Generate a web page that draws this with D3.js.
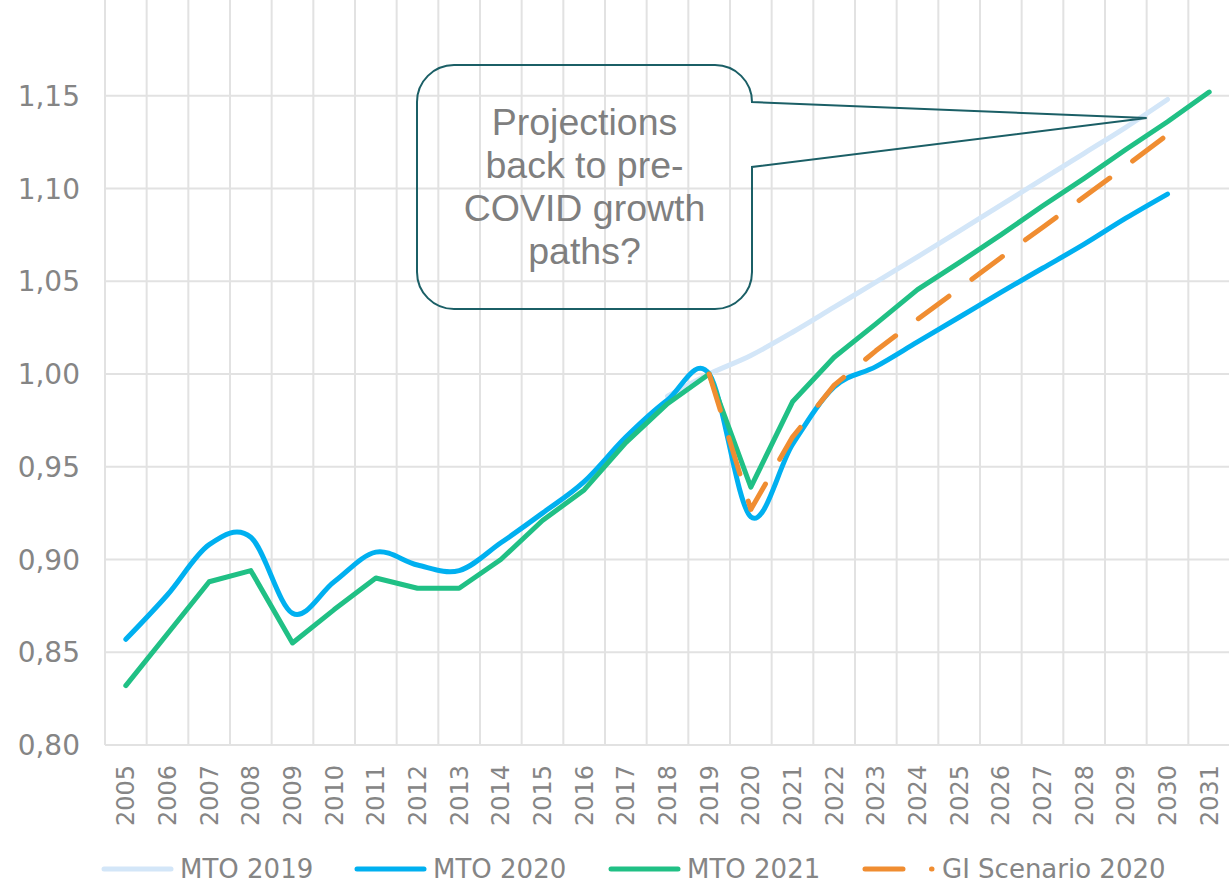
<!DOCTYPE html>
<html>
<head>
<meta charset="utf-8">
<script src="https://cdn.jsdelivr.net/npm/d3@7"></script>
<style>
  body { margin: 0; background: #fff; }
  svg { display: block; }
</style>
</head>
<body>
<div id="chart"></div>
<script>
// ---------------- data ----------------
var years = ["2005","2006","2007","2008","2009","2010","2011","2012","2013","2014","2015","2016","2017","2018",
             "2019","2020","2021","2022","2023","2024","2025","2026","2027","2028","2029","2030","2031"];

var mto2019 = [null,null,null,null,null,null,null,null,null,null,null,null,null,
               0.988,1.000,1.010,1.0225,1.036,1.0495,1.0632,1.077,1.091,1.105,1.119,1.133,1.148,null];

var mto2020 = [0.857,0.881,0.908,0.912,0.871,0.888,0.904,0.897,0.894,0.909,0.925,0.942,0.966,0.986,
               1.000,0.923,0.962,0.993,1.004,1.0173,1.0306,1.044,1.057,1.070,1.084,1.097,null];

var mto2021 = [0.832,0.860,0.888,0.894,0.855,0.873,0.890,0.8845,0.8845,0.900,0.921,0.9375,0.963,0.984,
               1.000,0.939,0.985,1.009,1.027,1.0455,1.060,1.075,1.0906,1.1055,1.121,1.136,1.152];

var giScenario2020 = [null,null,null,null,null,null,null,null,null,null,null,null,null,null,
                      1.000,0.927,0.966,0.994,1.0125,1.0295,1.046,1.0627,1.079,1.0955,1.112,1.129,null];

var yTicks = [0.80,0.85,0.90,0.95,1.00,1.05,1.10,1.15];

var seriesNames = ["MTO 2019","MTO 2020","MTO 2021","GI Scenario 2020"];
var calloutLines = ["Projections","back to pre-","COVID growth","paths?"];

// ---------------- svg ----------------
var svgWidth = 1229, svgHeight = 886;
var plot = {left: 105, right: 1230, top: 3, bottom: 745};

var svg = d3.select("#chart").append("svg")
  .attr("width", svgWidth).attr("height", svgHeight);

var xScale = d3.scaleBand().domain(years).range([plot.left, plot.right]).padding(0);
var yScale = d3.scaleLinear().domain([0.80, 1.20]).range([plot.bottom, plot.top]);
var xc = function(i) { return xScale(years[i]) + xScale.bandwidth() / 2; };

var comma = d3.formatLocale({decimal: ",", thousands: ".", grouping: [3], currency: ["", "€"]}).format(".2f");
var gridColor = "#e2e2e2";
var textColor = "#858585";

// horizontal grid
svg.append("g").selectAll("line").data(yTicks).enter().append("line")
  .attr("x1", plot.left).attr("x2", plot.right)
  .attr("y1", d => yScale(d)).attr("y2", d => yScale(d))
  .attr("stroke", gridColor).attr("stroke-width", 2);

// vertical grid (between categories)
svg.append("g").selectAll("line").data(years).enter().append("line")
  .attr("x1", d => xScale(d)).attr("x2", d => xScale(d))
  .attr("y1", 0).attr("y2", plot.bottom)
  .attr("stroke", gridColor).attr("stroke-width", 2);

// y labels
svg.append("g").selectAll("text").data(yTicks).enter().append("text")
  .attr("x", 80).attr("y", d => yScale(d))
  .attr("dy", "0.36em")
  .attr("text-anchor", "end")
  .attr("font-family", "DejaVu Sans").attr("font-size", 28)
  .attr("fill", textColor)
  .text(d => comma(d));

// x labels
svg.append("g").selectAll("text").data(years).enter().append("text")
  .attr("transform", (d, i) => `translate(${xc(i)},${plot.bottom + 20}) rotate(-90)`)
  .attr("text-anchor", "end")
  .attr("dy", "0.36em")
  .attr("font-family", "DejaVu Sans").attr("font-size", 24)
  .attr("fill", textColor)
  .text(d => d);

// ---------------- lines ----------------
var series = [
  {name: seriesNames[0], values: mto2019, color: "#d3e6f8", curve: d3.curveCardinal.tension(0), dash: null},
  {name: seriesNames[1], values: mto2020, color: "#00b0f0", curve: d3.curveCardinal.tension(0), dash: null},
  {name: seriesNames[2], values: mto2021, color: "#20c085", curve: d3.curveLinear, dash: null},
  {name: seriesNames[3], values: giScenario2020, color: "#f08d31", curve: d3.curveLinear, dash: "38,28.5"}
];

series.forEach(function(s) {
  var pts = s.values.map((v, i) => [i, v]).filter(p => p[1] !== null);
  var line = d3.line()
    .x(p => xc(p[0]))
    .y(p => yScale(p[1]))
    .curve(s.curve);
  svg.append("path")
    .attr("d", line(pts))
    .attr("fill", "none")
    .attr("stroke", s.color)
    .attr("stroke-width", 5)
    .attr("stroke-linecap", "round")
    .attr("stroke-linejoin", "round")
    .attr("stroke-dasharray", s.dash);
});

// ---------------- callout ----------------
var box = {x0: 417, y0: 65, x1: 752, y1: 309, r: 37};
var tip = [xScale("2030"), yScale(1.138)];
var cp = d3.path();
cp.moveTo(box.x0 + box.r, box.y0);
cp.lineTo(box.x1 - box.r, box.y0);
cp.arcTo(box.x1, box.y0, box.x1, box.y0 + box.r, box.r);
cp.lineTo(tip[0], tip[1]);
cp.lineTo(box.x1, 167);
cp.lineTo(box.x1, box.y1 - box.r);
cp.arcTo(box.x1, box.y1, box.x1 - box.r, box.y1, box.r);
cp.lineTo(box.x0 + box.r, box.y1);
cp.arcTo(box.x0, box.y1, box.x0, box.y1 - box.r, box.r);
cp.lineTo(box.x0, box.y0 + box.r);
cp.arcTo(box.x0, box.y0, box.x0 + box.r, box.y0, box.r);
cp.closePath();

svg.append("path")
  .attr("d", cp.toString())
  .attr("fill", "none")
  .attr("stroke", "#1b5f66")
  .attr("stroke-width", 2);

svg.append("g").selectAll("text").data(calloutLines).enter().append("text")
  .attr("x", (box.x0 + box.x1) / 2)
  .attr("y", (d, i) => 135 + i * 43)
  .attr("text-anchor", "middle")
  .attr("font-family", "Liberation Sans, Arial, sans-serif")
  .attr("font-size", 37.5)
  .attr("fill", "#7f7f7f")
  .text(d => d);

// ---------------- legend ----------------
var legendY = 869;
var legendX = [104, 357, 611, 865];
var legend = svg.append("g").selectAll("g").data(series).enter().append("g")
  .attr("transform", (d, i) => `translate(${legendX[i]},${legendY})`);

legend.append("line")
  .attr("x1", 0).attr("x2", 67)
  .attr("y1", 0).attr("y2", 0)
  .attr("stroke", d => d.color)
  .attr("stroke-width", 5)
  .attr("stroke-linecap", "round")
  .attr("stroke-dasharray", d => d.dash);

legend.append("text")
  .attr("x", d => d.dash ? 77 : 76)
  .attr("y", 0)
  .attr("dy", "0.34em")
  .attr("font-family", "DejaVu Sans").attr("font-size", 26)
  .attr("fill", textColor)
  .text(d => d.name);
</script>
</body>
</html>
